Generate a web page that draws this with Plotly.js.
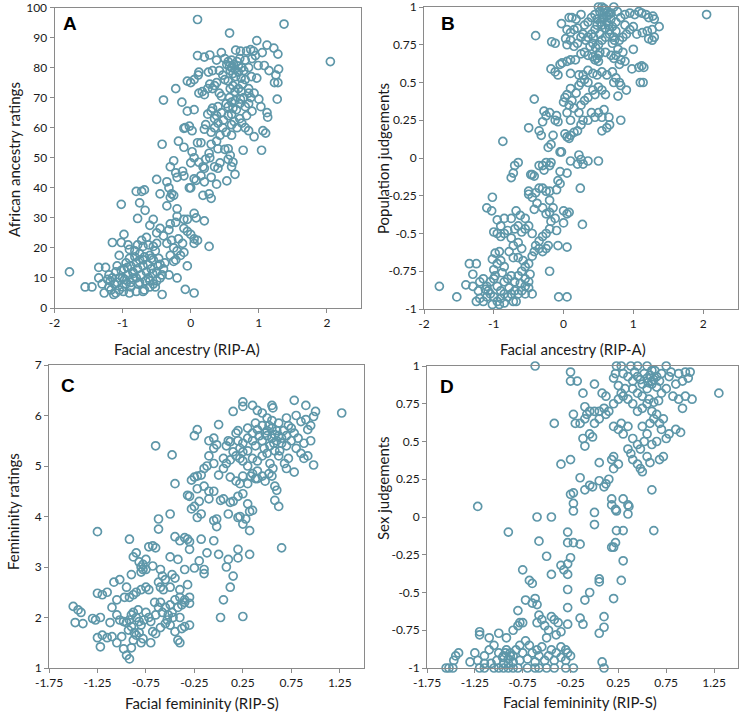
<!DOCTYPE html>
<html>
<head>
<meta charset="utf-8">
<script src="https://cdn.plot.ly/plotly-3.0.1.min.js"></script>
<style>html,body{margin:0;padding:0;background:#fff;}#chart{width:743px;height:717px;}</style>
</head>
<body>
<div id="chart"></div>
<script>
// Panel A: Facial ancestry (RIP-A) vs African ancestry ratings
const panelA_points = [
[0.1,96],[1.37,94.5],[0.57,91.5],[2.05,82],[-1.78,12],
[0.97,89],[1.12,87.5],[1.22,86.5],[1.28,84.5],[1.05,85],[0.88,86],[0.82,85.5],[0.92,85.5],[0.73,85.5],[0.66,85.8],[0.45,85],[0.28,84.2],[0.1,84],[0.2,83.5],[0.5,83],[0.55,82],[0.38,82.5],[0.6,80],[0.63,81],[0.7,80.5],[0.75,80],[0.78,79],[0.85,80],[0.99,80.7],[1.08,80.7],[1.15,79],[1.29,79.5],[1.25,77.5],[1.23,75],[1.28,75],[1.27,69.5],[0.97,76.5],[0.89,77],[0.12,78.5],[0.11,77.5],[0.05,76],[-0.05,75.5],[0.0,75],[0.26,78.5],[0.32,79],[0.42,79],[0.47,77.5],[0.5,76],[0.28,74.5],[0.35,74],[0.38,75],[0.55,75.5],[0.62,74],[0.7,73],[0.74,72],[0.85,73],[0.85,71.5],[0.93,71.5],[1.0,69.5],[1.03,67],[1.12,65],[1.13,63.5],[1.06,59],[1.1,58.2],[0.93,57],[1.04,52.5],[0.77,52.5],[0.8,60],[0.85,59],[0.82,64],[0.8,67],[0.73,69.5],[0.65,69],[0.6,68.5],[0.55,67],[0.52,68],[0.45,70.5],[0.42,71.5],[0.32,73],[0.25,73],[0.17,72],[0.12,71.5],[0.2,71],[-0.22,73],[-0.4,69.2],[-0.13,68.5],[0.32,66.5],[0.3,65.5],[0.25,64.5],[0.38,64],[0.45,65],[0.48,62.5],[0.55,64],[0.4,61.5],[0.35,60],[0.3,58.5],[0.22,61],[0.05,66],[-0.05,65.5],[-0.02,60.5],[-0.08,60],[-0.1,59.8],[0.02,59],[0.2,59.5],[0.52,58.5],[0.6,57.5],[0.68,60],[0.72,63],[0.75,61.5],[0.64,62],
[0.58,79],[0.62,78],[0.66,77],[0.7,78.5],[0.74,76.5],[0.57,80.5],[0.68,82],[0.8,76],[0.72,68],[0.78,70],[0.67,66],[0.62,66.5],[0.57,70],[0.85,68],[0.9,65.5],[0.6,61],
[0.53,81],[0.6,82.5],[0.65,79.5],[0.72,83],[0.8,82.5],[0.9,83],[0.95,84],[0.76,74.5],[0.65,72],[0.58,73],[0.4,67],[0.35,63],[0.47,60],[0.43,57.5],[0.6,64.5],[0.88,70],
[-0.18,55.5],[-0.42,54.5],[-0.1,53.5],[0.1,55],[0.15,55],[0.3,54.5],[0.38,55.5],[0.4,53],[0.5,52.8],[0.55,53],[0.58,50.8],[0.55,49.5],[0.62,48.5],[0.6,47],[0.65,44.5],[0.53,42.3],[0.27,51.5],[0.28,50],[0.22,49.5],[0.05,50],[0.0,48.3],[0.02,52],[0.18,47],[0.12,48.5],[0.2,46.5],[0.35,47],[0.4,46.5],[0.43,48.3],[0.3,43.5],[0.15,44],[0.08,42.5],[0.05,43],[0.2,42],[0.38,41.2],[-0.1,44],[-0.12,45.5],[-0.22,45],[-0.2,43.5],[-0.3,47],[-0.25,49],[-0.02,40],[0.0,40],[0.18,37.5],[0.27,38],[0.3,36.5],
[-0.5,42.8],[-0.35,42],[-0.32,40],[-0.28,38],[-0.25,37.5],[-0.3,36.8],[-0.35,34],[-0.45,38],[-0.8,38.8],[-0.72,38.8],[-0.68,39.3],[-1.02,34.5],[-0.75,35],[-0.67,32.5],[-0.78,29.8],[-0.55,29.5],[-0.2,33],[-0.1,29.5],[-0.05,29.5],[0.05,31.5],[0.08,30],[0.2,29],[-0.2,30.5],[-0.22,28.5],[-0.3,28],[-0.32,26],[-0.45,26.5],[-0.4,24],[-0.5,25],[-0.6,27.5],[-0.65,23.5],[-0.5,21.5],[-0.35,21.5],[-0.28,22.5],[-0.18,23],[-0.12,21.5],[-0.05,25.5],[-0.1,26.5],[0.0,24.5],[0.05,23],[0.1,22.5],[0.05,21.5],[0.27,20.5],[-0.25,20],[-0.2,19],[-0.15,17.5],[-0.3,17.5],[-0.22,16],[-0.25,15.5],[-0.1,18.5],[-0.05,14],[-0.2,10],[-0.32,11],[-0.08,6.2],[0.05,5],[-0.42,4.5],
[-1.13,4.5],[-1.1,5],[-1.05,6],[-1.0,7],[-0.95,8],[-0.88,8.5],[-0.8,5.5],[-0.7,5.5],[-0.6,7],[-0.55,8],[-1.2,7],[-1.27,5],[-1.3,8],[-1.45,7],[-1.55,7],[-1.35,10],[-1.35,13.5],[-1.25,13.5],[-1.2,11],[-1.15,10],[-1.1,12],[-1.05,10],[-0.98,13],[-0.95,15],[-0.9,16.5],[-0.92,11],[-0.85,12],[-0.8,15],[-0.75,16],[-0.7,14],[-0.65,12],[-0.62,10],[-0.58,13],[-0.5,12],[-0.45,14.5],[-0.42,11],[-0.5,9],[-0.45,10],[-0.4,13],[-0.38,15],[-0.55,16],[-0.6,17.5],[-0.68,17],[-0.75,18],[-0.82,19],[-0.9,19.5],[-0.92,21],[-0.98,24.5],[-1.02,21.8],[-1.15,21.8],[-1.05,17.5],[-0.7,20.5],[-0.72,22.5],[-0.62,21],[-0.55,20.5],[-0.58,16.5],[-0.78,13],[-0.85,10],[-0.88,7],[-0.75,8.5],[-0.68,6],[-1.0,10],[-1.12,8],[-1.18,9],[-1.08,14],[-0.97,9.5],[-0.84,11.5],[-0.73,11],[-0.6,9],[-0.52,7],[-0.78,21],[-0.48,14],[-0.47,16.5],[-0.52,19],
[-1.08,8.5],[-1.02,12.5],[-0.93,13.5],[-0.88,14],[-0.8,10],[-0.77,8],[-0.66,9],[-0.63,14.5],[-0.56,11.5],[-1.17,6],[-1.22,9.5],[-0.99,5.5],[-0.9,5],[-0.82,17],[-0.7,16]
];

// Panel B: Facial ancestry (RIP-A) vs Population judgements
const panelB_points = [
[2.05,0.95],[-1.78,-0.85],[-1.53,-0.92],[-0.87,0.11],[-0.4,0.81],[-0.5,0.2],[-0.42,0.39],
[0.5,1.0],[0.55,1.0],[0.6,0.98],[0.72,1.0],[0.65,0.95],[0.58,0.96],[0.52,0.97],[0.45,0.95],[0.48,0.92],[0.4,0.93],[0.35,0.9],[0.3,0.88],[0.25,0.95],[0.18,0.92],[0.08,0.93],[0.12,0.93],[-0.03,0.89],[0.05,0.85],[0.1,0.83],[0.15,0.85],[0.2,0.86],[0.28,0.82],[0.35,0.8],[0.4,0.82],[0.45,0.85],[0.55,0.88],[0.62,0.9],[0.68,0.92],[0.75,0.9],[0.82,0.93],[0.88,0.95],[0.95,0.96],[1.02,0.95],[1.08,0.97],[1.12,0.96],[1.18,0.95],[1.22,0.93],[1.28,0.94],[1.3,0.92],[1.37,0.87],[1.27,0.85],[1.2,0.84],[1.13,0.83],[1.05,0.82],[1.0,0.87],[0.95,0.85],[0.9,0.82],[0.85,0.8],[0.8,0.78],[0.72,0.8],[0.7,0.76],[0.66,0.82],[0.6,0.8],[0.55,0.78],[0.5,0.75],[0.46,0.73],[0.42,0.76],[0.38,0.74],[0.32,0.78],[0.25,0.8],[0.2,0.76],[0.15,0.74],[0.1,0.78],[0.05,0.75],[0.03,0.79],[-0.12,0.76],[-0.17,0.77],
[0.57,0.93],[0.62,0.94],[0.53,0.9],[0.6,0.86],[0.64,0.88],[0.7,0.87],[0.75,0.84],[0.77,0.97],[0.48,0.88],[0.43,0.8],[0.52,0.82],
[0.58,0.99],[0.63,0.97],[0.68,0.96],[0.56,0.92],[0.66,0.85],[0.73,0.78],[0.78,0.72],[0.52,0.7],[0.48,0.66],[0.88,0.88],
[0.25,0.69],[0.3,0.7],[0.35,0.68],[0.42,0.67],[0.45,0.65],[0.5,0.64],[0.5,0.68],[0.6,0.7],[0.68,0.68],[0.72,0.66],[0.75,0.68],[0.82,0.65],[0.85,0.7],[0.8,0.62],[0.88,0.64],[0.98,0.59],[1.0,0.72],[1.08,0.6],[1.12,0.61],[1.15,0.6],[1.1,0.5],[1.14,0.5],[1.22,0.79],[1.27,0.78],[1.3,0.8],[-0.05,0.62],[-0.02,0.63],[0.05,0.64],[0.1,0.65],[0.17,0.65],[-0.18,0.59],[-0.12,0.57],[-0.08,0.55],[0.1,0.56],[0.22,0.55],[0.28,0.55],[0.35,0.58],[0.42,0.56],[0.48,0.55],[0.55,0.57],[0.62,0.55],[0.7,0.57],[0.75,0.53],[0.72,0.5],[0.8,0.5],[0.82,0.48],[0.9,0.45],[0.78,0.41],[0.6,0.42],[0.55,0.45],[0.5,0.47],[0.45,0.42],[0.42,0.45],[0.35,0.5],[0.3,0.52],[0.25,0.5],[0.22,0.48],[0.18,0.43],[0.1,0.46],[0.05,0.42],[0.02,0.4],[0.0,0.37],[0.08,0.35],[0.12,0.38],[0.15,0.33],[0.22,0.3],[0.25,0.35],[0.3,0.38],[0.35,0.4],[0.4,0.3],[0.45,0.27],[0.5,0.3],[0.55,0.27],[0.58,0.32],[0.65,0.27],[0.62,0.2],[0.66,0.22],[0.55,0.18],[0.82,0.25],[0.35,0.25],[0.28,0.25],[0.25,0.22],[0.2,0.18],[0.15,0.17],[0.1,0.15],[0.05,0.14],[0.08,0.13],[0.02,0.16],[0.1,0.25],[0.05,0.3],[-0.1,0.28],[-0.12,0.25],[-0.2,0.3],[-0.25,0.28],[-0.28,0.31],[-0.3,0.24],[-0.35,0.18],[-0.32,0.15],[-0.15,0.15],[-0.18,0.09],[-0.22,0.07],[-0.08,0.24],[-0.05,0.04],[-0.03,0.04],[0.1,-0.02],[0.22,0.02],[0.25,-0.01],[0.28,-0.04],[0.2,-0.04],[0.35,-0.02],[0.5,-0.02],
[-0.25,-0.03],[-0.2,-0.05],[-0.18,-0.03],[-0.3,-0.05],[-0.28,-0.08],[-0.35,-0.05],[-0.05,-0.09],[0.05,-0.1],[-0.08,-0.15],[-0.05,-0.17],[-0.1,-0.21],[0.24,-0.2],[0.0,-0.35],[0.05,-0.37],[0.08,-0.36],[0.27,-0.44],[0.0,-0.43],[-0.1,-0.48],[-0.12,-0.4],[-0.15,-0.33],[-0.2,-0.28],[-0.25,-0.22],[-0.2,-0.22],[-0.3,-0.2],[-0.35,-0.2],[-0.4,-0.23],[-0.45,-0.26],[-0.5,-0.22],[-0.5,-0.24],[-0.45,-0.11],[-0.47,-0.11],[-0.42,-0.12],[-0.65,-0.03],[-0.7,-0.05],[-0.72,-0.1],[-0.75,-0.13],[-1.02,-0.26],[-1.1,-0.33],[-1.03,-0.35],[-0.95,-0.41],[-0.85,-0.4],[-0.75,-0.4],[-0.68,-0.35],[-0.62,-0.38],[-0.55,-0.4],[-0.5,-0.45],[-0.42,-0.34],[-0.38,-0.3],[-0.3,-0.33],[-0.25,-0.37],[-0.2,-0.36],[-0.18,-0.42],[-0.2,-0.47],[-0.25,-0.5],[-0.3,-0.52],[-0.35,-0.55],[-0.4,-0.58],[-0.45,-0.5],[-0.55,-0.47],[-0.6,-0.49],[-0.65,-0.45],[-0.7,-0.47],[-0.75,-0.53],[-0.8,-0.48],[-0.85,-0.5],[-0.9,-0.52],[-0.95,-0.5],[-1.0,-0.49],[-0.9,-0.45],[-0.65,-0.56],[-0.6,-0.6],[-0.72,-0.58],[-0.78,-0.62],[-0.92,-0.62],[-0.98,-0.63],[-1.02,-0.67],[-0.9,-0.68],[-0.85,-0.72],[-0.95,-0.7],[-0.72,-0.66],[-0.65,-0.66],[-0.58,-0.68],[-0.55,-0.72],[-0.5,-0.7],[-0.45,-0.65],[-0.42,-0.62],[-0.35,-0.6],[-0.3,-0.62],[-0.25,-0.6],[-0.22,-0.58],[-0.2,-0.75],[-0.08,-0.58],[0.05,-0.59],
[-1.35,-0.7],[-1.25,-0.7],[-1.3,-0.77],[-1.2,-0.82],[-1.15,-0.8],[-1.1,-0.85],[-1.05,-0.82],[-1.0,-0.8],[-0.95,-0.85],[-0.9,-0.88],[-0.85,-0.82],[-0.8,-0.8],[-0.75,-0.78],[-0.7,-0.82],[-0.65,-0.78],[-0.6,-0.75],[-0.55,-0.8],[-0.5,-0.82],[-0.48,-0.77],[-0.55,-0.85],[-0.5,-0.86],[-0.6,-0.88],[-0.65,-0.9],[-0.7,-0.88],[-0.75,-0.9],[-0.8,-0.92],[-0.85,-0.9],[-0.9,-0.93],[-0.95,-0.95],[-1.0,-0.92],[-1.05,-0.9],[-1.1,-0.92],[-1.15,-0.95],[-1.2,-0.93],[-1.25,-0.95],[-1.4,-0.84],[-1.3,-0.85],[-1.22,-0.88],[-1.12,-0.87],[-1.02,-0.97],[-0.92,-0.97],[-0.72,-0.95],[-0.68,-0.95],[-0.55,-0.9],[-0.45,-0.9],[-0.07,-0.92],[0.05,-0.92],[-0.85,-0.96],[-1.08,-0.88],[-0.78,-0.86],[-0.62,-0.83],[-0.98,-0.78],[-0.88,-0.76],[-1.0,-0.74]
];

// Panel C: Facial femininity (RIP-S) vs Femininity ratings
const panelC_points = [
[1.27,6.05],[0.78,6.3],[0.9,6.2],[0.25,6.27],[0.25,6.18],[0.35,6.2],[0.55,6.2],[0.56,6.15],[0.15,6.08],[0.0,5.82],[-0.22,5.72],[-0.25,5.6],[-0.05,5.55],[-0.1,5.5],[0.1,5.5],[0.18,5.65],[0.2,5.7],[0.3,5.75],[0.38,5.85],[0.4,6.1],[0.45,6.05],[0.5,5.95],[0.55,5.9],[0.62,5.85],[0.7,5.95],[0.8,6.0],[0.85,5.88],[0.9,5.92],[0.95,5.8],[1.0,6.08],[0.98,5.98],[0.92,5.72],[0.95,5.5],[0.88,5.45],[0.82,5.55],[0.78,5.65],[0.75,5.75],[0.7,5.6],[0.65,5.55],[0.6,5.7],[0.55,5.75],[0.5,5.7],[0.45,5.8],[0.4,5.72],[0.35,5.65],[0.3,5.55],[0.25,5.45],[0.2,5.5],[0.12,5.48],[0.08,5.4],[-0.02,5.42],[-0.05,5.35],[0.22,5.35],[0.25,5.28],[0.3,5.3],[0.38,5.4],[0.45,5.5],[0.5,5.6],[0.55,5.55],[0.6,5.5],[0.65,5.45],[0.7,5.4],[0.75,5.5],[0.8,5.35],[0.85,5.25],[0.88,5.15],[0.92,5.2],[0.98,5.02],[0.78,4.88],[0.7,4.95],[0.68,5.05],[0.72,5.15],[0.62,5.2],[0.58,5.3],[0.5,5.25],[0.45,5.2],[0.4,5.1],[0.35,5.15],[0.3,5.0],[0.25,5.1],[0.22,5.15],[0.18,5.2],[0.15,5.28],[0.12,5.12],[0.08,5.05],[0.05,5.15],[-0.05,5.05],[-0.1,5.2],[-0.12,5.0],[-0.15,4.95],[-0.18,4.82],[-0.22,4.8],[-0.25,4.78],[-0.28,4.72],[-0.22,4.55],[-0.15,4.6],[-0.1,4.5],[0.0,4.82],[0.05,4.95],[0.12,4.78],[0.18,4.7],[0.22,4.65],[0.25,4.8],[0.35,4.85],[0.4,4.9],[0.45,4.8],[0.48,4.7],[0.52,4.85],[0.55,4.8],[0.58,4.6],[0.6,4.52],[0.62,4.2],[0.58,4.32],[0.65,3.38],
[0.48,5.65],[0.52,5.8],[0.58,5.62],[0.62,5.6],[0.67,5.7],[0.42,5.6],[0.47,5.35],[0.57,5.45],[0.53,5.4],[0.63,5.3],[0.72,5.8],[0.35,5.5],[0.4,4.75],[0.33,4.8],[0.53,5.05],[0.56,4.95],
[0.3,4.65],[0.38,4.75],[0.2,4.4],[0.25,4.45],[0.15,4.3],[0.12,4.28],[0.3,4.25],[0.32,4.1],[0.35,4.12],[0.22,4.0],[0.2,3.98],[0.25,3.85],[0.32,3.72],[0.28,3.95],[0.1,4.05],[0.05,4.35],[0.02,4.32],[-0.02,3.95],[-0.05,4.5],[-0.02,3.8],[-0.3,4.4],[-0.28,4.15],[-0.25,4.2],[-0.22,3.98],[-0.2,4.3],[-0.18,4.05],[-0.1,4.35],[-0.05,3.92],[-0.45,4.65],[-0.32,4.42],[-0.5,4.05],[-0.62,3.95],[-0.62,3.75],[-0.65,5.4],[-0.48,5.22],[-0.05,3.52],[0.2,3.35],[0.32,3.25],[0.1,3.15],[0.0,3.25],[-0.12,3.28],[-0.18,3.55],[-0.2,3.12],[-0.15,2.87],[-0.25,2.98],[-0.3,3.35],[-0.32,3.55],[-0.3,3.5],[-0.35,3.58],[-0.4,3.52],[-0.45,3.6],[-0.42,3.15],[-0.35,2.95],[-0.32,2.65],[-0.35,2.3],[-0.3,2.28],[-0.4,2.55],[-0.45,2.78],[-0.48,2.85],[-0.5,3.2],[-0.5,2.6],[-0.55,2.75],[-0.6,2.6],[-0.62,2.7],[-0.58,2.82],[-0.6,2.95],[-0.68,3.02],[-0.72,3.4],[-0.68,3.42],[-0.65,3.38],[-0.75,3.15],[-0.78,3.05],[-0.8,3.0],[-0.82,3.1],[-0.85,3.28],[-0.88,3.2],[-0.92,3.55],[-0.9,2.85],[-0.78,2.95],[-0.8,2.55],[-0.85,2.5],[-0.88,2.45],[-0.92,2.4],[-0.97,2.4],[-1.02,2.75],[-1.08,2.7],[-1.15,2.5],[-1.2,2.45],[-1.25,2.48],[-1.25,3.7],
[-1.22,2.0],[-1.27,1.95],[-1.3,1.98],[-1.25,1.6],[-1.22,1.42],[-1.2,1.65],[-1.15,1.6],[-1.1,1.62],[-1.05,1.5],[-1.0,1.62],[-0.98,1.38],[-0.95,1.25],[-0.92,1.18],[-0.9,1.4],[-0.88,1.55],[-0.85,1.65],[-0.82,1.7],[-0.8,1.5],[-0.78,1.58],[-0.7,1.5],[-0.68,1.72],[-0.65,1.68],[-0.6,1.8],[-0.55,1.88],[-0.5,1.85],[-0.45,1.72],[-0.42,1.55],[-0.4,1.5],[-0.38,1.78],[-0.35,1.82],[-0.3,1.85],[-1.05,2.05],[-1.02,1.95],[-0.98,1.92],[-0.95,1.9],[-0.92,1.95],[-0.9,2.05],[-0.88,2.1],[-0.85,2.0],[-0.82,1.92],[-0.8,1.85],[-0.75,2.1],[-0.72,2.0],[-0.7,1.92],[-0.65,2.05],[-0.62,2.2],[-0.6,2.3],[-0.58,2.1],[-0.55,2.2],[-0.52,2.05],[-0.5,2.25],[-0.48,2.1],[-0.45,2.35],[-0.42,2.2],[-0.4,2.0],[-0.38,2.25],[-0.35,2.35],[-0.3,2.4],[-1.1,2.2],[-1.12,1.9],[-1.5,2.22],[-1.45,2.15],[-1.42,2.1],[-1.48,1.9],[-1.4,1.88],[-1.05,2.35],[-0.95,2.6],[-0.75,2.6],[-0.72,2.55],[0.02,2.0],[0.25,2.02],[0.05,2.35],[0.12,2.6],[0.15,2.82],[0.2,3.18],[-0.15,2.95],[0.08,3.0],
[-0.93,1.75],[-0.9,1.82],[-0.87,1.7],[-0.83,2.15],[-0.77,1.95],[-0.66,2.3],[-0.53,1.95],[-0.47,2.0],[-0.4,2.4],[-0.57,2.55],[-0.8,2.9],[-0.75,2.95]
];

// Panel D: Facial femininity (RIP-S) vs Sex judgements
const panelD_points = [
[-0.62,1.0],[1.3,0.82],[0.23,1.0],[0.28,1.0],[0.38,1.0],[0.45,1.0],[0.55,1.0],[0.6,0.97],[0.75,1.0],[0.8,0.96],[0.88,0.95],[0.95,0.96],[1.0,0.96],[0.98,0.92],[0.92,0.9],[0.85,0.88],[0.78,0.93],[0.7,0.95],[0.65,0.93],[0.6,0.9],[0.55,0.92],[0.5,0.88],[0.45,0.93],[0.4,0.9],[0.35,0.93],[0.3,0.95],[0.22,0.95],[0.2,0.92],[0.25,0.87],[0.28,0.82],[0.32,0.85],[0.4,0.85],[0.45,0.82],[0.5,0.8],[0.55,0.85],[0.6,0.88],[0.65,0.86],[0.7,0.82],[0.75,0.85],[0.82,0.8],[0.88,0.78],[0.95,0.8],[1.02,0.78],[0.92,0.72],[0.85,0.58],[0.9,0.56],[0.75,0.52],[0.78,0.55],[0.7,0.58],[0.65,0.5],[0.6,0.48],[0.68,0.62],[0.72,0.65],[0.65,0.68],[0.6,0.7],[0.55,0.75],[0.5,0.72],[0.45,0.7],[0.4,0.75],[0.35,0.78],[0.3,0.8],[0.25,0.78],[0.2,0.75],[0.15,0.7],[0.1,0.72],[0.05,0.7],[0.0,0.7],[-0.05,0.7],[-0.1,0.73],[-0.08,0.68],[0.0,0.62],[0.05,0.65],[0.12,0.68],[0.2,0.6],[0.25,0.58],[0.28,0.62],[0.3,0.55],[0.35,0.6],[0.4,0.52],[0.45,0.48],[0.48,0.45],[0.52,0.5],[0.55,0.55],[0.5,0.6],[0.58,0.62],[0.62,0.65],
[0.58,0.94],[0.62,0.91],[0.56,0.89],[0.52,0.95],[0.63,0.97],[0.68,0.9],[0.48,0.91],[0.42,0.96],[0.57,0.78],[0.62,0.76],[0.67,0.77],
[0.35,0.45],[0.38,0.42],[0.4,0.38],[0.45,0.35],[0.48,0.32],[0.5,0.3],[0.55,0.4],[0.58,0.36],[0.6,0.18],[0.68,0.38],[0.72,0.4],[0.62,-0.09],[-0.12,0.82],[-0.25,0.96],[-0.25,0.9],[-0.18,0.9],[0.0,0.88],[0.08,0.82],[0.12,0.8],[-0.1,0.65],[-0.15,0.62],[-0.2,0.62],[-0.42,0.62],[-0.22,0.68],[-0.12,0.52],[-0.05,0.55],[-0.02,0.53],[-0.1,0.47],[0.05,0.36],[-0.25,0.38],[-0.35,0.35],[0.18,0.38],[0.2,0.4],[0.2,0.32],[0.25,0.35],[0.15,0.25],[0.05,0.24],[-0.15,0.26],[-0.1,0.18],[-0.05,0.21],[-0.02,0.2],[0.1,0.2],[0.12,0.22],[-0.25,0.15],[-0.22,0.16],[-0.22,0.09],[-0.22,0.04],[0.18,0.08],[0.22,0.05],[0.23,0.04],[0.3,0.12],[0.18,0.12],[0.35,0.08],[0.36,0.07],[0.35,0.02],[-0.6,0.0],[-0.45,0.0],[0.0,0.03],[0.0,-0.05],[-0.9,-0.1],[-1.22,0.07],[-0.58,-0.16],[-0.28,-0.1],[-0.28,-0.17],[-0.22,-0.17],[-0.15,-0.18],[-0.25,-0.27],[-0.5,-0.26],[-0.35,-0.32],[-0.32,-0.35],[-0.28,-0.38],[-0.45,-0.38],[-0.28,-0.31],[0.2,-0.2],[0.22,-0.17],[0.18,-0.2],[0.23,-0.09],[0.3,-0.09],[0.3,-0.29],[0.28,-0.42],[0.05,-0.41],[0.05,-0.43],
[-0.75,-0.35],[-0.68,-0.42],[-0.65,-0.44],[-0.72,-0.55],[-0.62,-0.54],[-0.65,-0.57],[-0.6,-0.58],[-0.8,-0.62],[-0.28,-0.48],[-0.05,-0.5],[-0.1,-0.55],[0.2,-0.54],[-0.28,-0.6],[-0.15,-0.67],[-0.12,-0.71],[0.1,-0.66],[0.1,-0.73],[0.05,-0.77],[-0.28,-0.71],[-0.58,-0.65],[-0.55,-0.68],[-0.6,-0.7],[-0.52,-0.72],[-0.45,-0.66],[-0.42,-0.68],[-0.38,-0.7],[-0.4,-0.78],[-0.35,-0.76],[-0.48,-0.75],[-0.75,-0.7],[-0.78,-0.7],[-0.8,-0.72],[-0.85,-0.75],[-0.92,-0.8],[-1.0,-0.77],[-1.1,-0.8],[-1.2,-0.76],[-1.2,-0.78],[-1.25,-0.9],[-1.3,-0.96],[-1.22,-0.95],[-1.15,-0.92],[-1.1,-0.88],[-1.05,-0.85],[-1.0,-0.9],[-0.95,-0.92],[-0.92,-0.88],[-0.88,-0.9],[-0.85,-0.92],[-0.82,-0.88],[-0.78,-0.85],[-0.75,-0.9],[-0.72,-0.82],[-0.68,-0.85],[-0.65,-0.9],[-0.6,-0.88],[-0.55,-0.86],[-0.5,-0.8],[-0.45,-0.88],[-0.4,-0.9],[-0.35,-0.86],[-0.3,-0.88],[-0.28,-0.9],[-0.25,-0.92],[-0.3,-0.95],[-0.35,-0.93],[-0.42,-0.95],[-0.48,-0.92],[-0.52,-0.95],[-0.58,-0.92],[-0.62,-0.96],[-0.7,-0.94],[-0.78,-0.95],[-0.85,-0.96],[-0.9,-0.94],[-0.95,-0.97],[-1.02,-0.95],[-1.08,-0.97],[-1.15,-0.97],[-1.55,-1.0],[-1.52,-1.0],[-1.48,-1.0],[-1.45,-0.92],[-1.42,-0.9],[-1.47,-0.95],[-1.2,-1.0],[-1.15,-1.0],[-1.05,-1.0],[-1.0,-1.0],[-0.95,-1.0],[-0.9,-1.0],[-0.85,-1.0],[-0.8,-1.0],[-0.7,-1.0],[-0.62,-1.0],[-0.58,-1.0],[-0.5,-1.0],[-0.42,-1.0],[-0.3,-1.0],[-0.22,-1.0],[0.1,-1.0],[0.08,-0.96],[-0.9,-0.97],[-0.88,-0.92],[-0.93,-0.9],[-0.96,-0.93]
];

const xTitles = ["Facial ancestry (RIP-A)", "Facial ancestry (RIP-A)", "Facial femininity (RIP-S)", "Facial femininity (RIP-S)"];
const yTitles = ["African ancestry ratings", "Population judgements", "Femininity ratings", "Sex judgements"];
const panelLetters = ["A", "B", "C", "D"];
const ancestryTicks = [-2, -1, 0, 1, 2];
const ancestryTickText = ["-2", "-1", "0", "1", "2"];
const femTicks = [-1.75, -1.25, -0.75, -0.25, 0.25, 0.75, 1.25];
const femTickText = ["-1.75", "-1.25", "-0.75", "-0.25", "0.25", "0.75", "1.25"];
const ratingTicksA = [0, 10, 20, 30, 40, 50, 60, 70, 80, 90, 100];
const judgeTicks = [-1, -0.75, -0.5, -0.25, 0, 0.25, 0.5, 0.75, 1];
const judgeTickText = ["-1", "-0.75", "-0.5", "-0.25", "0", "0.25", "0.5", "0.75", "1"];
const femRatingTicks = [1, 2, 3, 4, 5, 6, 7];

const W = 743, H = 717;
const markerColor = "#5e97a9";
const axisColor = "#8a8a8a";
const fontFam = "Lato, 'Open Sans', sans-serif";

function mkTrace(pts, xa, ya) {
  return {
    type: "scatter", mode: "markers",
    x: pts.map(p => p[0]), y: pts.map(p => p[1]),
    xaxis: xa, yaxis: ya,
    cliponaxis: false,
    marker: {symbol: "circle-open", size: 8, color: markerColor, line: {width: 1.7, color: markerColor}},
    hoverinfo: "x+y", showlegend: false
  };
}

const data = [
  mkTrace(panelA_points, "x", "y"),
  mkTrace(panelB_points, "x2", "y2"),
  mkTrace(panelC_points, "x3", "y3"),
  mkTrace(panelD_points, "x4", "y4")
];

// pixel boxes of the four plot areas
const boxes = [
  {l: 54.5, r: 361, t: 7.5, b: 308},
  {l: 424, r: 738, t: 7, b: 309},
  {l: 49, r: 364, t: 365, b: 668},
  {l: 427, r: 738, t: 366, b: 668}
];

function baseAxis() {
  return {
    showline: true, mirror: true, linecolor: axisColor, linewidth: 1,
    ticks: "outside", ticklen: 4, tickcolor: axisColor, tickwidth: 1,
    showgrid: false, zeroline: false, automargin: false,
    ticklabeloverflow: "allow",
    tickfont: {family: fontFam, size: 12, color: "#1a1a1a"}, fixedrange: true
  };
}

const layout = {
  width: W, height: H,
  margin: {l: 0, r: 0, t: 0, b: 0},
  paper_bgcolor: "#ffffff", plot_bgcolor: "#ffffff",
  showlegend: false,
  annotations: []
};

const xRanges = [[-2, 2.5], [-2, 2.5], [-1.75, 1.5], [-1.75, 1.5]];
const yRanges = [[0, 100], [-1, 1], [1, 7], [-1, 1]];
const xTickVals = [ancestryTicks, ancestryTicks, femTicks, femTicks];
const xTickTxt = [ancestryTickText, ancestryTickText, femTickText, femTickText];
const yTickVals = [ratingTicksA, judgeTicks, femRatingTicks, judgeTicks];
const yTickTxt = [ratingTicksA.map(String), judgeTickText, femRatingTicks.map(String), judgeTickText];

boxes.forEach((b, i) => {
  const sfx = i === 0 ? "" : String(i + 1);
  const xa = baseAxis();
  xa.domain = [b.l / W, b.r / W];
  xa.range = xRanges[i];
  xa.tickmode = "array"; xa.tickvals = xTickVals[i]; xa.ticktext = xTickTxt[i];
  xa.anchor = "y" + sfx;
  const ya = baseAxis();
  ya.domain = [1 - b.b / H, 1 - b.t / H];
  ya.range = yRanges[i];
  ya.tickmode = "array"; ya.tickvals = yTickVals[i]; ya.ticktext = yTickTxt[i];
  ya.anchor = "x" + sfx;
  layout["xaxis" + sfx] = xa;
  layout["yaxis" + sfx] = ya;
});

// axis titles and panel letters placed in pixel positions
const xTitlePos = [[187, 349], [573, 349], [202, 703], [580, 702]];
const yTitlePos = [[14, 160], [383, 159], [13, 512], [383, 488]];
const letterPos = [[70, 24], [448, 24], [68, 385], [447, 386]];

xTitles.forEach((t, i) => {
  layout.annotations.push({
    text: t, xref: "paper", yref: "paper",
    x: xTitlePos[i][0] / W, y: 1 - xTitlePos[i][1] / H,
    xanchor: "center", yanchor: "middle", showarrow: false,
    font: {family: fontFam, size: 15, color: "#1a1a1a"}
  });
});
yTitles.forEach((t, i) => {
  layout.annotations.push({
    text: t, xref: "paper", yref: "paper",
    x: yTitlePos[i][0] / W, y: 1 - yTitlePos[i][1] / H,
    xanchor: "center", yanchor: "middle", showarrow: false, textangle: -90,
    font: {family: fontFam, size: 15, color: "#1a1a1a"}
  });
});
panelLetters.forEach((t, i) => {
  layout.annotations.push({
    text: "<b>" + t + "</b>", xref: "paper", yref: "paper",
    x: letterPos[i][0] / W, y: 1 - letterPos[i][1] / H,
    xanchor: "center", yanchor: "middle", showarrow: false,
    font: {family: "Liberation Sans, Arial, sans-serif", size: 19, color: "#000"}
  });
});

Plotly.newPlot("chart", data, layout, {displayModeBar: false, staticPlot: true});
</script>
</body>
</html>
